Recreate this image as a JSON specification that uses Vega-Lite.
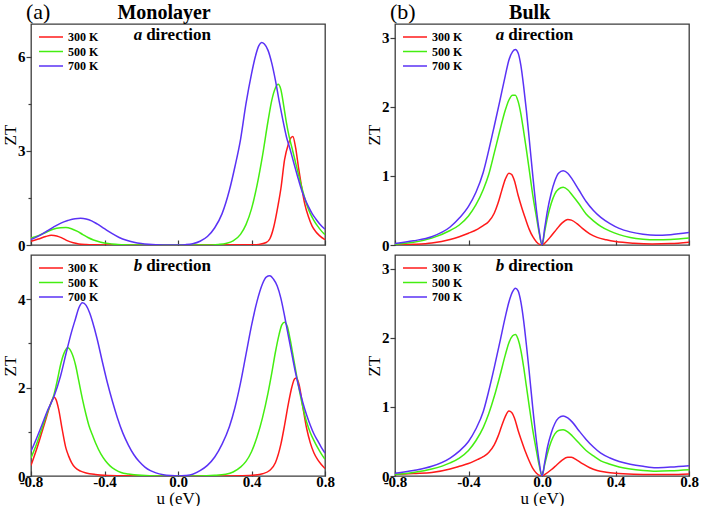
{
  "$schema": "https://vega.github.io/schema/vega-lite/v6.json",
  "padding": {"left": 0, "top": 0, "right": 0, "bottom": 0},
  "background": "white",
  "config": {
    "font": "Liberation Serif",
    "view": {"stroke": "#3c3c3c", "strokeWidth": 1.3},
    "axis": {"labelFont": "Liberation Serif", "labelFontWeight": "bold", "labelFontSize": 15, "labelColor": "#000", "titleFont": "Liberation Serif", "titleFontWeight": "normal", "titleFontSize": 17, "titleColor": "#000", "grid": false, "domain": false, "tickColor": "#3c3c3c", "tickWidth": 1.2, "labelFlush": false, "labelOverlap": false},
    "legend": {"title": null, "orient": "none", "padding": 0, "symbolType": "M-2,0L2,0", "symbolSize": 144, "symbolStrokeWidth": 1.5, "labelFont": "Liberation Serif", "labelFontSize": 12, "labelFontWeight": "bold", "labelColor": "#000", "labelOffset": 10, "rowPadding": 1.5},
    "text": {"font": "Liberation Serif", "color": "#000"}
  },
  "datasets": {
    "d": [
      {"p":"LA","T":"300 K","u":-0.8,"v":0.12},{"p":"LA","T":"300 K","u":-0.76,"v":0.19},{"p":"LA","T":"300 K","u":-0.72,"v":0.27},{"p":"LA","T":"300 K","u":-0.69,"v":0.31},{"p":"LA","T":"300 K","u":-0.66,"v":0.29},{"p":"LA","T":"300 K","u":-0.63,"v":0.22},{"p":"LA","T":"300 K","u":-0.6,"v":0.13},{"p":"LA","T":"300 K","u":-0.57,"v":0.07},{"p":"LA","T":"300 K","u":-0.54,"v":0.035},{"p":"LA","T":"300 K","u":-0.5,"v":0.015},{"p":"LA","T":"300 K","u":-0.45,"v":0.005},{"p":"LA","T":"300 K","u":-0.4,"v":0},{"p":"LA","T":"300 K","u":0,"v":0},{"p":"LA","T":"300 K","u":0.4,"v":0.005},{"p":"LA","T":"300 K","u":0.44,"v":0.02},{"p":"LA","T":"300 K","u":0.48,"v":0.08},{"p":"LA","T":"300 K","u":0.5,"v":0.2},{"p":"LA","T":"300 K","u":0.52,"v":0.55},{"p":"LA","T":"300 K","u":0.545,"v":1.28},{"p":"LA","T":"300 K","u":0.56,"v":1.8},{"p":"LA","T":"300 K","u":0.58,"v":2.72},{"p":"LA","T":"300 K","u":0.6,"v":3.2},{"p":"LA","T":"300 K","u":0.615,"v":3.42},{"p":"LA","T":"300 K","u":0.625,"v":3.46},{"p":"LA","T":"300 K","u":0.64,"v":3.1},{"p":"LA","T":"300 K","u":0.655,"v":2.5},{"p":"LA","T":"300 K","u":0.67,"v":1.95},{"p":"LA","T":"300 K","u":0.69,"v":1.3},{"p":"LA","T":"300 K","u":0.71,"v":0.9},{"p":"LA","T":"300 K","u":0.73,"v":0.6},{"p":"LA","T":"300 K","u":0.75,"v":0.42},{"p":"LA","T":"300 K","u":0.77,"v":0.3},{"p":"LA","T":"300 K","u":0.8,"v":0.17},
      {"p":"LA","T":"500 K","u":-0.8,"v":0.22},{"p":"LA","T":"500 K","u":-0.76,"v":0.3},{"p":"LA","T":"500 K","u":-0.72,"v":0.4},{"p":"LA","T":"500 K","u":-0.68,"v":0.5},{"p":"LA","T":"500 K","u":-0.64,"v":0.55},{"p":"LA","T":"500 K","u":-0.61,"v":0.56},{"p":"LA","T":"500 K","u":-0.58,"v":0.52},{"p":"LA","T":"500 K","u":-0.55,"v":0.44},{"p":"LA","T":"500 K","u":-0.52,"v":0.34},{"p":"LA","T":"500 K","u":-0.49,"v":0.24},{"p":"LA","T":"500 K","u":-0.46,"v":0.16},{"p":"LA","T":"500 K","u":-0.42,"v":0.09},{"p":"LA","T":"500 K","u":-0.38,"v":0.045},{"p":"LA","T":"500 K","u":-0.34,"v":0.02},{"p":"LA","T":"500 K","u":-0.3,"v":0.01},{"p":"LA","T":"500 K","u":-0.25,"v":0.003},{"p":"LA","T":"500 K","u":-0.2,"v":0},{"p":"LA","T":"500 K","u":0.15,"v":0},{"p":"LA","T":"500 K","u":0.22,"v":0.02},{"p":"LA","T":"500 K","u":0.26,"v":0.05},{"p":"LA","T":"500 K","u":0.3,"v":0.13},{"p":"LA","T":"500 K","u":0.34,"v":0.34},{"p":"LA","T":"500 K","u":0.37,"v":0.65},{"p":"LA","T":"500 K","u":0.4,"v":1.15},{"p":"LA","T":"500 K","u":0.43,"v":1.9},{"p":"LA","T":"500 K","u":0.46,"v":2.85},{"p":"LA","T":"500 K","u":0.49,"v":3.95},{"p":"LA","T":"500 K","u":0.51,"v":4.6},{"p":"LA","T":"500 K","u":0.53,"v":5.0},{"p":"LA","T":"500 K","u":0.545,"v":5.12},{"p":"LA","T":"500 K","u":0.56,"v":4.95},{"p":"LA","T":"500 K","u":0.575,"v":4.45},{"p":"LA","T":"500 K","u":0.59,"v":3.9},{"p":"LA","T":"500 K","u":0.605,"v":3.45},{"p":"LA","T":"500 K","u":0.62,"v":3.1},{"p":"LA","T":"500 K","u":0.64,"v":2.62},{"p":"LA","T":"500 K","u":0.66,"v":2.15},{"p":"LA","T":"500 K","u":0.68,"v":1.7},{"p":"LA","T":"500 K","u":0.7,"v":1.3},{"p":"LA","T":"500 K","u":0.72,"v":1.0},{"p":"LA","T":"500 K","u":0.74,"v":0.78},{"p":"LA","T":"500 K","u":0.76,"v":0.6},{"p":"LA","T":"500 K","u":0.78,"v":0.45},{"p":"LA","T":"500 K","u":0.8,"v":0.33},
      {"p":"LA","T":"700 K","u":-0.8,"v":0.17},{"p":"LA","T":"700 K","u":-0.76,"v":0.28},{"p":"LA","T":"700 K","u":-0.72,"v":0.42},{"p":"LA","T":"700 K","u":-0.68,"v":0.56},{"p":"LA","T":"700 K","u":-0.64,"v":0.69},{"p":"LA","T":"700 K","u":-0.6,"v":0.78},{"p":"LA","T":"700 K","u":-0.56,"v":0.84},{"p":"LA","T":"700 K","u":-0.53,"v":0.85},{"p":"LA","T":"700 K","u":-0.5,"v":0.83},{"p":"LA","T":"700 K","u":-0.47,"v":0.77},{"p":"LA","T":"700 K","u":-0.44,"v":0.67},{"p":"LA","T":"700 K","u":-0.4,"v":0.52},{"p":"LA","T":"700 K","u":-0.36,"v":0.37},{"p":"LA","T":"700 K","u":-0.32,"v":0.24},{"p":"LA","T":"700 K","u":-0.28,"v":0.15},{"p":"LA","T":"700 K","u":-0.24,"v":0.09},{"p":"LA","T":"700 K","u":-0.2,"v":0.05},{"p":"LA","T":"700 K","u":-0.16,"v":0.025},{"p":"LA","T":"700 K","u":-0.12,"v":0.01},{"p":"LA","T":"700 K","u":-0.08,"v":0.003},{"p":"LA","T":"700 K","u":-0.04,"v":0},{"p":"LA","T":"700 K","u":0,"v":0},{"p":"LA","T":"700 K","u":0.04,"v":0.01},{"p":"LA","T":"700 K","u":0.08,"v":0.04},{"p":"LA","T":"700 K","u":0.12,"v":0.12},{"p":"LA","T":"700 K","u":0.16,"v":0.27},{"p":"LA","T":"700 K","u":0.2,"v":0.55},{"p":"LA","T":"700 K","u":0.24,"v":1.0},{"p":"LA","T":"700 K","u":0.28,"v":1.75},{"p":"LA","T":"700 K","u":0.31,"v":2.5},{"p":"LA","T":"700 K","u":0.34,"v":3.35},{"p":"LA","T":"700 K","u":0.37,"v":4.5},{"p":"LA","T":"700 K","u":0.4,"v":5.45},{"p":"LA","T":"700 K","u":0.42,"v":5.98},{"p":"LA","T":"700 K","u":0.44,"v":6.35},{"p":"LA","T":"700 K","u":0.455,"v":6.45},{"p":"LA","T":"700 K","u":0.47,"v":6.4},{"p":"LA","T":"700 K","u":0.49,"v":6.2},{"p":"LA","T":"700 K","u":0.51,"v":5.8},{"p":"LA","T":"700 K","u":0.53,"v":5.25},{"p":"LA","T":"700 K","u":0.55,"v":4.6},{"p":"LA","T":"700 K","u":0.57,"v":4.0},{"p":"LA","T":"700 K","u":0.59,"v":3.45},{"p":"LA","T":"700 K","u":0.61,"v":3.05},{"p":"LA","T":"700 K","u":0.63,"v":2.62},{"p":"LA","T":"700 K","u":0.65,"v":2.2},{"p":"LA","T":"700 K","u":0.67,"v":1.8},{"p":"LA","T":"700 K","u":0.69,"v":1.48},{"p":"LA","T":"700 K","u":0.71,"v":1.22},{"p":"LA","T":"700 K","u":0.73,"v":1.0},{"p":"LA","T":"700 K","u":0.75,"v":0.83},{"p":"LA","T":"700 K","u":0.77,"v":0.68},{"p":"LA","T":"700 K","u":0.8,"v":0.5},
      {"p":"LB","T":"300 K","u":-0.8,"v":0.24},{"p":"LB","T":"300 K","u":-0.77,"v":0.6},{"p":"LB","T":"300 K","u":-0.74,"v":1.0},{"p":"LB","T":"300 K","u":-0.72,"v":1.27},{"p":"LB","T":"300 K","u":-0.7,"v":1.55},{"p":"LB","T":"300 K","u":-0.685,"v":1.72},{"p":"LB","T":"300 K","u":-0.675,"v":1.78},{"p":"LB","T":"300 K","u":-0.665,"v":1.74},{"p":"LB","T":"300 K","u":-0.65,"v":1.52},{"p":"LB","T":"300 K","u":-0.63,"v":1.05},{"p":"LB","T":"300 K","u":-0.61,"v":0.63},{"p":"LB","T":"300 K","u":-0.595,"v":0.45},{"p":"LB","T":"300 K","u":-0.58,"v":0.31},{"p":"LB","T":"300 K","u":-0.56,"v":0.19},{"p":"LB","T":"300 K","u":-0.53,"v":0.11},{"p":"LB","T":"300 K","u":-0.5,"v":0.07},{"p":"LB","T":"300 K","u":-0.45,"v":0.035},{"p":"LB","T":"300 K","u":-0.4,"v":0.015},{"p":"LB","T":"300 K","u":-0.3,"v":0.003},{"p":"LB","T":"300 K","u":-0.2,"v":0},{"p":"LB","T":"300 K","u":0.2,"v":0},{"p":"LB","T":"300 K","u":0.35,"v":0.005},{"p":"LB","T":"300 K","u":0.42,"v":0.02},{"p":"LB","T":"300 K","u":0.46,"v":0.05},{"p":"LB","T":"300 K","u":0.5,"v":0.13},{"p":"LB","T":"300 K","u":0.53,"v":0.3},{"p":"LB","T":"300 K","u":0.56,"v":0.72},{"p":"LB","T":"300 K","u":0.58,"v":1.15},{"p":"LB","T":"300 K","u":0.6,"v":1.62},{"p":"LB","T":"300 K","u":0.62,"v":2.02},{"p":"LB","T":"300 K","u":0.635,"v":2.2},{"p":"LB","T":"300 K","u":0.645,"v":2.22},{"p":"LB","T":"300 K","u":0.66,"v":2.05},{"p":"LB","T":"300 K","u":0.68,"v":1.55},{"p":"LB","T":"300 K","u":0.7,"v":1.08},{"p":"LB","T":"300 K","u":0.72,"v":0.75},{"p":"LB","T":"300 K","u":0.74,"v":0.52},{"p":"LB","T":"300 K","u":0.76,"v":0.37},{"p":"LB","T":"300 K","u":0.78,"v":0.26},{"p":"LB","T":"300 K","u":0.8,"v":0.17},
      {"p":"LB","T":"500 K","u":-0.8,"v":0.41},{"p":"LB","T":"500 K","u":-0.77,"v":0.72},{"p":"LB","T":"500 K","u":-0.74,"v":1.08},{"p":"LB","T":"500 K","u":-0.71,"v":1.45},{"p":"LB","T":"500 K","u":-0.675,"v":1.84},{"p":"LB","T":"500 K","u":-0.655,"v":2.2},{"p":"LB","T":"500 K","u":-0.64,"v":2.5},{"p":"LB","T":"500 K","u":-0.62,"v":2.78},{"p":"LB","T":"500 K","u":-0.6,"v":2.9},{"p":"LB","T":"500 K","u":-0.58,"v":2.8},{"p":"LB","T":"500 K","u":-0.557,"v":2.5},{"p":"LB","T":"500 K","u":-0.54,"v":2.15},{"p":"LB","T":"500 K","u":-0.52,"v":1.74},{"p":"LB","T":"500 K","u":-0.5,"v":1.38},{"p":"LB","T":"500 K","u":-0.484,"v":1.13},{"p":"LB","T":"500 K","u":-0.465,"v":0.92},{"p":"LB","T":"500 K","u":-0.448,"v":0.74},{"p":"LB","T":"500 K","u":-0.42,"v":0.5},{"p":"LB","T":"500 K","u":-0.394,"v":0.34},{"p":"LB","T":"500 K","u":-0.37,"v":0.23},{"p":"LB","T":"500 K","u":-0.34,"v":0.14},{"p":"LB","T":"500 K","u":-0.31,"v":0.08},{"p":"LB","T":"500 K","u":-0.27,"v":0.045},{"p":"LB","T":"500 K","u":-0.2,"v":0.015},{"p":"LB","T":"500 K","u":-0.1,"v":0.002},{"p":"LB","T":"500 K","u":0,"v":0},{"p":"LB","T":"500 K","u":0.1,"v":0.002},{"p":"LB","T":"500 K","u":0.2,"v":0.015},{"p":"LB","T":"500 K","u":0.26,"v":0.04},{"p":"LB","T":"500 K","u":0.3,"v":0.09},{"p":"LB","T":"500 K","u":0.34,"v":0.2},{"p":"LB","T":"500 K","u":0.37,"v":0.33},{"p":"LB","T":"500 K","u":0.4,"v":0.55},{"p":"LB","T":"500 K","u":0.43,"v":0.88},{"p":"LB","T":"500 K","u":0.46,"v":1.32},{"p":"LB","T":"500 K","u":0.49,"v":1.88},{"p":"LB","T":"500 K","u":0.51,"v":2.32},{"p":"LB","T":"500 K","u":0.53,"v":2.8},{"p":"LB","T":"500 K","u":0.55,"v":3.2},{"p":"LB","T":"500 K","u":0.565,"v":3.42},{"p":"LB","T":"500 K","u":0.58,"v":3.48},{"p":"LB","T":"500 K","u":0.595,"v":3.38},{"p":"LB","T":"500 K","u":0.61,"v":3.1},{"p":"LB","T":"500 K","u":0.625,"v":2.75},{"p":"LB","T":"500 K","u":0.64,"v":2.4},{"p":"LB","T":"500 K","u":0.66,"v":1.95},{"p":"LB","T":"500 K","u":0.68,"v":1.55},{"p":"LB","T":"500 K","u":0.7,"v":1.22},{"p":"LB","T":"500 K","u":0.72,"v":0.98},{"p":"LB","T":"500 K","u":0.74,"v":0.8},{"p":"LB","T":"500 K","u":0.76,"v":0.64},{"p":"LB","T":"500 K","u":0.78,"v":0.5},{"p":"LB","T":"500 K","u":0.8,"v":0.38},
      {"p":"LB","T":"700 K","u":-0.8,"v":0.56},{"p":"LB","T":"700 K","u":-0.77,"v":0.85},{"p":"LB","T":"700 K","u":-0.74,"v":1.16},{"p":"LB","T":"700 K","u":-0.71,"v":1.48},{"p":"LB","T":"700 K","u":-0.675,"v":1.8},{"p":"LB","T":"700 K","u":-0.64,"v":2.25},{"p":"LB","T":"700 K","u":-0.61,"v":2.76},{"p":"LB","T":"700 K","u":-0.58,"v":3.25},{"p":"LB","T":"700 K","u":-0.557,"v":3.57},{"p":"LB","T":"700 K","u":-0.54,"v":3.8},{"p":"LB","T":"700 K","u":-0.52,"v":3.92},{"p":"LB","T":"700 K","u":-0.5,"v":3.86},{"p":"LB","T":"700 K","u":-0.48,"v":3.68},{"p":"LB","T":"700 K","u":-0.466,"v":3.5},{"p":"LB","T":"700 K","u":-0.44,"v":3.1},{"p":"LB","T":"700 K","u":-0.412,"v":2.59},{"p":"LB","T":"700 K","u":-0.385,"v":2.12},{"p":"LB","T":"700 K","u":-0.357,"v":1.69},{"p":"LB","T":"700 K","u":-0.33,"v":1.32},{"p":"LB","T":"700 K","u":-0.3,"v":0.97},{"p":"LB","T":"700 K","u":-0.27,"v":0.7},{"p":"LB","T":"700 K","u":-0.24,"v":0.48},{"p":"LB","T":"700 K","u":-0.21,"v":0.32},{"p":"LB","T":"700 K","u":-0.18,"v":0.2},{"p":"LB","T":"700 K","u":-0.15,"v":0.12},{"p":"LB","T":"700 K","u":-0.12,"v":0.07},{"p":"LB","T":"700 K","u":-0.08,"v":0.03},{"p":"LB","T":"700 K","u":-0.04,"v":0.01},{"p":"LB","T":"700 K","u":0,"v":0},{"p":"LB","T":"700 K","u":0.04,"v":0.01},{"p":"LB","T":"700 K","u":0.08,"v":0.04},{"p":"LB","T":"700 K","u":0.12,"v":0.12},{"p":"LB","T":"700 K","u":0.16,"v":0.24},{"p":"LB","T":"700 K","u":0.2,"v":0.43},{"p":"LB","T":"700 K","u":0.24,"v":0.72},{"p":"LB","T":"700 K","u":0.28,"v":1.12},{"p":"LB","T":"700 K","u":0.31,"v":1.55},{"p":"LB","T":"700 K","u":0.34,"v":2.1},{"p":"LB","T":"700 K","u":0.37,"v":2.75},{"p":"LB","T":"700 K","u":0.4,"v":3.4},{"p":"LB","T":"700 K","u":0.43,"v":3.95},{"p":"LB","T":"700 K","u":0.46,"v":4.35},{"p":"LB","T":"700 K","u":0.48,"v":4.5},{"p":"LB","T":"700 K","u":0.5,"v":4.53},{"p":"LB","T":"700 K","u":0.52,"v":4.45},{"p":"LB","T":"700 K","u":0.54,"v":4.3},{"p":"LB","T":"700 K","u":0.56,"v":4.02},{"p":"LB","T":"700 K","u":0.58,"v":3.62},{"p":"LB","T":"700 K","u":0.6,"v":3.18},{"p":"LB","T":"700 K","u":0.62,"v":2.75},{"p":"LB","T":"700 K","u":0.64,"v":2.33},{"p":"LB","T":"700 K","u":0.66,"v":1.97},{"p":"LB","T":"700 K","u":0.68,"v":1.65},{"p":"LB","T":"700 K","u":0.7,"v":1.38},{"p":"LB","T":"700 K","u":0.72,"v":1.15},{"p":"LB","T":"700 K","u":0.74,"v":0.95},{"p":"LB","T":"700 K","u":0.76,"v":0.8},{"p":"LB","T":"700 K","u":0.78,"v":0.65},{"p":"LB","T":"700 K","u":0.8,"v":0.52},
      {"p":"RA","T":"300 K","u":-0.8,"v":0.0},{"p":"RA","T":"300 K","u":-0.7,"v":0.01},{"p":"RA","T":"300 K","u":-0.6,"v":0.03},{"p":"RA","T":"300 K","u":-0.5,"v":0.08},{"p":"RA","T":"300 K","u":-0.45,"v":0.12},{"p":"RA","T":"300 K","u":-0.4,"v":0.17},{"p":"RA","T":"300 K","u":-0.35,"v":0.23},{"p":"RA","T":"300 K","u":-0.32,"v":0.28},{"p":"RA","T":"300 K","u":-0.29,"v":0.34},{"p":"RA","T":"300 K","u":-0.26,"v":0.46},{"p":"RA","T":"300 K","u":-0.24,"v":0.6},{"p":"RA","T":"300 K","u":-0.22,"v":0.78},{"p":"RA","T":"300 K","u":-0.2,"v":0.95},{"p":"RA","T":"300 K","u":-0.18,"v":1.04},{"p":"RA","T":"300 K","u":-0.165,"v":1.02},{"p":"RA","T":"300 K","u":-0.15,"v":0.93},{"p":"RA","T":"300 K","u":-0.13,"v":0.72},{"p":"RA","T":"300 K","u":-0.11,"v":0.54},{"p":"RA","T":"300 K","u":-0.09,"v":0.38},{"p":"RA","T":"300 K","u":-0.07,"v":0.23},{"p":"RA","T":"300 K","u":-0.05,"v":0.12},{"p":"RA","T":"300 K","u":-0.03,"v":0.045},{"p":"RA","T":"300 K","u":-0.01,"v":0.005},{"p":"RA","T":"300 K","u":0,"v":0},{"p":"RA","T":"300 K","u":0.02,"v":0.04},{"p":"RA","T":"300 K","u":0.05,"v":0.13},{"p":"RA","T":"300 K","u":0.08,"v":0.23},{"p":"RA","T":"300 K","u":0.11,"v":0.32},{"p":"RA","T":"300 K","u":0.14,"v":0.37},{"p":"RA","T":"300 K","u":0.16,"v":0.36},{"p":"RA","T":"300 K","u":0.19,"v":0.31},{"p":"RA","T":"300 K","u":0.22,"v":0.24},{"p":"RA","T":"300 K","u":0.26,"v":0.16},{"p":"RA","T":"300 K","u":0.3,"v":0.11},{"p":"RA","T":"300 K","u":0.35,"v":0.075},{"p":"RA","T":"300 K","u":0.4,"v":0.05},{"p":"RA","T":"300 K","u":0.5,"v":0.025},{"p":"RA","T":"300 K","u":0.6,"v":0.015},{"p":"RA","T":"300 K","u":0.7,"v":0.02},{"p":"RA","T":"300 K","u":0.8,"v":0.04},
      {"p":"RA","T":"500 K","u":-0.8,"v":0.01},{"p":"RA","T":"500 K","u":-0.7,"v":0.04},{"p":"RA","T":"500 K","u":-0.6,"v":0.1},{"p":"RA","T":"500 K","u":-0.5,"v":0.21},{"p":"RA","T":"500 K","u":-0.45,"v":0.29},{"p":"RA","T":"500 K","u":-0.4,"v":0.42},{"p":"RA","T":"500 K","u":-0.36,"v":0.58},{"p":"RA","T":"500 K","u":-0.32,"v":0.8},{"p":"RA","T":"500 K","u":-0.29,"v":1.02},{"p":"RA","T":"500 K","u":-0.26,"v":1.33},{"p":"RA","T":"500 K","u":-0.23,"v":1.65},{"p":"RA","T":"500 K","u":-0.2,"v":1.95},{"p":"RA","T":"500 K","u":-0.18,"v":2.1},{"p":"RA","T":"500 K","u":-0.16,"v":2.17},{"p":"RA","T":"500 K","u":-0.145,"v":2.17},{"p":"RA","T":"500 K","u":-0.13,"v":2.08},{"p":"RA","T":"500 K","u":-0.115,"v":1.9},{"p":"RA","T":"500 K","u":-0.1,"v":1.65},{"p":"RA","T":"500 K","u":-0.085,"v":1.38},{"p":"RA","T":"500 K","u":-0.07,"v":1.1},{"p":"RA","T":"500 K","u":-0.05,"v":0.72},{"p":"RA","T":"500 K","u":-0.03,"v":0.4},{"p":"RA","T":"500 K","u":-0.015,"v":0.17},{"p":"RA","T":"500 K","u":0,"v":0},{"p":"RA","T":"500 K","u":0.015,"v":0.2},{"p":"RA","T":"500 K","u":0.03,"v":0.4},{"p":"RA","T":"500 K","u":0.05,"v":0.6},{"p":"RA","T":"500 K","u":0.07,"v":0.74},{"p":"RA","T":"500 K","u":0.09,"v":0.81},{"p":"RA","T":"500 K","u":0.115,"v":0.835},{"p":"RA","T":"500 K","u":0.14,"v":0.8},{"p":"RA","T":"500 K","u":0.165,"v":0.72},{"p":"RA","T":"500 K","u":0.2,"v":0.6},{"p":"RA","T":"500 K","u":0.24,"v":0.45},{"p":"RA","T":"500 K","u":0.28,"v":0.35},{"p":"RA","T":"500 K","u":0.32,"v":0.27},{"p":"RA","T":"500 K","u":0.37,"v":0.2},{"p":"RA","T":"500 K","u":0.42,"v":0.15},{"p":"RA","T":"500 K","u":0.48,"v":0.11},{"p":"RA","T":"500 K","u":0.55,"v":0.085},{"p":"RA","T":"500 K","u":0.62,"v":0.075},{"p":"RA","T":"500 K","u":0.7,"v":0.08},{"p":"RA","T":"500 K","u":0.8,"v":0.1},
      {"p":"RA","T":"700 K","u":-0.8,"v":0.02},{"p":"RA","T":"700 K","u":-0.7,"v":0.06},{"p":"RA","T":"700 K","u":-0.6,"v":0.12},{"p":"RA","T":"700 K","u":-0.5,"v":0.26},{"p":"RA","T":"700 K","u":-0.45,"v":0.39},{"p":"RA","T":"700 K","u":-0.4,"v":0.56},{"p":"RA","T":"700 K","u":-0.36,"v":0.76},{"p":"RA","T":"700 K","u":-0.32,"v":1.05},{"p":"RA","T":"700 K","u":-0.29,"v":1.37},{"p":"RA","T":"700 K","u":-0.26,"v":1.72},{"p":"RA","T":"700 K","u":-0.23,"v":2.08},{"p":"RA","T":"700 K","u":-0.2,"v":2.45},{"p":"RA","T":"700 K","u":-0.18,"v":2.68},{"p":"RA","T":"700 K","u":-0.16,"v":2.8},{"p":"RA","T":"700 K","u":-0.145,"v":2.83},{"p":"RA","T":"700 K","u":-0.13,"v":2.78},{"p":"RA","T":"700 K","u":-0.115,"v":2.6},{"p":"RA","T":"700 K","u":-0.1,"v":2.3},{"p":"RA","T":"700 K","u":-0.085,"v":1.95},{"p":"RA","T":"700 K","u":-0.07,"v":1.55},{"p":"RA","T":"700 K","u":-0.05,"v":1.0},{"p":"RA","T":"700 K","u":-0.03,"v":0.5},{"p":"RA","T":"700 K","u":-0.015,"v":0.2},{"p":"RA","T":"700 K","u":0,"v":0},{"p":"RA","T":"700 K","u":0.015,"v":0.25},{"p":"RA","T":"700 K","u":0.03,"v":0.5},{"p":"RA","T":"700 K","u":0.05,"v":0.75},{"p":"RA","T":"700 K","u":0.07,"v":0.93},{"p":"RA","T":"700 K","u":0.09,"v":1.04},{"p":"RA","T":"700 K","u":0.115,"v":1.075},{"p":"RA","T":"700 K","u":0.14,"v":1.04},{"p":"RA","T":"700 K","u":0.165,"v":0.95},{"p":"RA","T":"700 K","u":0.2,"v":0.8},{"p":"RA","T":"700 K","u":0.24,"v":0.63},{"p":"RA","T":"700 K","u":0.28,"v":0.5},{"p":"RA","T":"700 K","u":0.32,"v":0.4},{"p":"RA","T":"700 K","u":0.37,"v":0.31},{"p":"RA","T":"700 K","u":0.42,"v":0.24},{"p":"RA","T":"700 K","u":0.48,"v":0.19},{"p":"RA","T":"700 K","u":0.55,"v":0.155},{"p":"RA","T":"700 K","u":0.62,"v":0.14},{"p":"RA","T":"700 K","u":0.7,"v":0.15},{"p":"RA","T":"700 K","u":0.8,"v":0.18},
      {"p":"RB","T":"300 K","u":-0.8,"v":0.02},{"p":"RB","T":"300 K","u":-0.7,"v":0.035},{"p":"RB","T":"300 K","u":-0.6,"v":0.05},{"p":"RB","T":"300 K","u":-0.5,"v":0.1},{"p":"RB","T":"300 K","u":-0.45,"v":0.14},{"p":"RB","T":"300 K","u":-0.4,"v":0.18},{"p":"RB","T":"300 K","u":-0.35,"v":0.24},{"p":"RB","T":"300 K","u":-0.32,"v":0.28},{"p":"RB","T":"300 K","u":-0.29,"v":0.34},{"p":"RB","T":"300 K","u":-0.26,"v":0.45},{"p":"RB","T":"300 K","u":-0.24,"v":0.57},{"p":"RB","T":"300 K","u":-0.22,"v":0.72},{"p":"RB","T":"300 K","u":-0.2,"v":0.86},{"p":"RB","T":"300 K","u":-0.18,"v":0.94},{"p":"RB","T":"300 K","u":-0.165,"v":0.92},{"p":"RB","T":"300 K","u":-0.15,"v":0.84},{"p":"RB","T":"300 K","u":-0.13,"v":0.66},{"p":"RB","T":"300 K","u":-0.11,"v":0.5},{"p":"RB","T":"300 K","u":-0.09,"v":0.35},{"p":"RB","T":"300 K","u":-0.07,"v":0.22},{"p":"RB","T":"300 K","u":-0.05,"v":0.11},{"p":"RB","T":"300 K","u":-0.03,"v":0.04},{"p":"RB","T":"300 K","u":-0.01,"v":0.005},{"p":"RB","T":"300 K","u":0,"v":0},{"p":"RB","T":"300 K","u":0.02,"v":0.03},{"p":"RB","T":"300 K","u":0.05,"v":0.09},{"p":"RB","T":"300 K","u":0.08,"v":0.16},{"p":"RB","T":"300 K","u":0.11,"v":0.23},{"p":"RB","T":"300 K","u":0.14,"v":0.27},{"p":"RB","T":"300 K","u":0.16,"v":0.27},{"p":"RB","T":"300 K","u":0.19,"v":0.23},{"p":"RB","T":"300 K","u":0.22,"v":0.18},{"p":"RB","T":"300 K","u":0.26,"v":0.12},{"p":"RB","T":"300 K","u":0.3,"v":0.08},{"p":"RB","T":"300 K","u":0.35,"v":0.055},{"p":"RB","T":"300 K","u":0.4,"v":0.04},{"p":"RB","T":"300 K","u":0.5,"v":0.025},{"p":"RB","T":"300 K","u":0.6,"v":0.02},{"p":"RB","T":"300 K","u":0.7,"v":0.02},{"p":"RB","T":"300 K","u":0.8,"v":0.03},
      {"p":"RB","T":"500 K","u":-0.8,"v":0.02},{"p":"RB","T":"500 K","u":-0.7,"v":0.05},{"p":"RB","T":"500 K","u":-0.6,"v":0.1},{"p":"RB","T":"500 K","u":-0.5,"v":0.19},{"p":"RB","T":"500 K","u":-0.45,"v":0.26},{"p":"RB","T":"500 K","u":-0.4,"v":0.37},{"p":"RB","T":"500 K","u":-0.36,"v":0.51},{"p":"RB","T":"500 K","u":-0.32,"v":0.7},{"p":"RB","T":"500 K","u":-0.29,"v":0.9},{"p":"RB","T":"500 K","u":-0.26,"v":1.15},{"p":"RB","T":"500 K","u":-0.23,"v":1.44},{"p":"RB","T":"500 K","u":-0.2,"v":1.75},{"p":"RB","T":"500 K","u":-0.18,"v":1.93},{"p":"RB","T":"500 K","u":-0.16,"v":2.03},{"p":"RB","T":"500 K","u":-0.145,"v":2.05},{"p":"RB","T":"500 K","u":-0.13,"v":1.98},{"p":"RB","T":"500 K","u":-0.115,"v":1.82},{"p":"RB","T":"500 K","u":-0.1,"v":1.58},{"p":"RB","T":"500 K","u":-0.085,"v":1.3},{"p":"RB","T":"500 K","u":-0.07,"v":1.02},{"p":"RB","T":"500 K","u":-0.05,"v":0.66},{"p":"RB","T":"500 K","u":-0.03,"v":0.36},{"p":"RB","T":"500 K","u":-0.015,"v":0.15},{"p":"RB","T":"500 K","u":0,"v":0},{"p":"RB","T":"500 K","u":0.015,"v":0.17},{"p":"RB","T":"500 K","u":0.03,"v":0.33},{"p":"RB","T":"500 K","u":0.05,"v":0.5},{"p":"RB","T":"500 K","u":0.07,"v":0.61},{"p":"RB","T":"500 K","u":0.09,"v":0.66},{"p":"RB","T":"500 K","u":0.115,"v":0.67},{"p":"RB","T":"500 K","u":0.14,"v":0.64},{"p":"RB","T":"500 K","u":0.165,"v":0.58},{"p":"RB","T":"500 K","u":0.2,"v":0.48},{"p":"RB","T":"500 K","u":0.24,"v":0.37},{"p":"RB","T":"500 K","u":0.28,"v":0.29},{"p":"RB","T":"500 K","u":0.32,"v":0.22},{"p":"RB","T":"500 K","u":0.37,"v":0.17},{"p":"RB","T":"500 K","u":0.42,"v":0.13},{"p":"RB","T":"500 K","u":0.48,"v":0.1},{"p":"RB","T":"500 K","u":0.55,"v":0.08},{"p":"RB","T":"500 K","u":0.62,"v":0.07},{"p":"RB","T":"500 K","u":0.7,"v":0.075},{"p":"RB","T":"500 K","u":0.8,"v":0.09},
      {"p":"RB","T":"700 K","u":-0.8,"v":0.04},{"p":"RB","T":"700 K","u":-0.7,"v":0.08},{"p":"RB","T":"700 K","u":-0.6,"v":0.14},{"p":"RB","T":"700 K","u":-0.5,"v":0.26},{"p":"RB","T":"700 K","u":-0.45,"v":0.36},{"p":"RB","T":"700 K","u":-0.4,"v":0.5},{"p":"RB","T":"700 K","u":-0.36,"v":0.68},{"p":"RB","T":"700 K","u":-0.32,"v":0.93},{"p":"RB","T":"700 K","u":-0.29,"v":1.23},{"p":"RB","T":"700 K","u":-0.26,"v":1.57},{"p":"RB","T":"700 K","u":-0.23,"v":1.93},{"p":"RB","T":"700 K","u":-0.2,"v":2.3},{"p":"RB","T":"700 K","u":-0.18,"v":2.52},{"p":"RB","T":"700 K","u":-0.16,"v":2.67},{"p":"RB","T":"700 K","u":-0.145,"v":2.72},{"p":"RB","T":"700 K","u":-0.13,"v":2.68},{"p":"RB","T":"700 K","u":-0.115,"v":2.52},{"p":"RB","T":"700 K","u":-0.1,"v":2.25},{"p":"RB","T":"700 K","u":-0.085,"v":1.9},{"p":"RB","T":"700 K","u":-0.07,"v":1.52},{"p":"RB","T":"700 K","u":-0.05,"v":0.98},{"p":"RB","T":"700 K","u":-0.03,"v":0.5},{"p":"RB","T":"700 K","u":-0.015,"v":0.2},{"p":"RB","T":"700 K","u":0,"v":0},{"p":"RB","T":"700 K","u":0.015,"v":0.2},{"p":"RB","T":"700 K","u":0.03,"v":0.42},{"p":"RB","T":"700 K","u":0.05,"v":0.62},{"p":"RB","T":"700 K","u":0.07,"v":0.76},{"p":"RB","T":"700 K","u":0.09,"v":0.84},{"p":"RB","T":"700 K","u":0.115,"v":0.87},{"p":"RB","T":"700 K","u":0.14,"v":0.84},{"p":"RB","T":"700 K","u":0.165,"v":0.78},{"p":"RB","T":"700 K","u":0.2,"v":0.66},{"p":"RB","T":"700 K","u":0.24,"v":0.53},{"p":"RB","T":"700 K","u":0.28,"v":0.42},{"p":"RB","T":"700 K","u":0.32,"v":0.33},{"p":"RB","T":"700 K","u":0.37,"v":0.26},{"p":"RB","T":"700 K","u":0.42,"v":0.21},{"p":"RB","T":"700 K","u":0.48,"v":0.17},{"p":"RB","T":"700 K","u":0.55,"v":0.14},{"p":"RB","T":"700 K","u":0.62,"v":0.12},{"p":"RB","T":"700 K","u":0.7,"v":0.13},{"p":"RB","T":"700 K","u":0.8,"v":0.15}
    ]
  },
  "spacing": 28,
  "resolve": {"scale": {"x": "independent", "y": "independent", "color": "independent"}, "axis": {"x": "independent", "y": "independent"}, "legend": {"color": "independent"}},
  "hconcat": [
    {
      "spacing": 0,
      "resolve": {"scale": {"x": "independent", "y": "independent", "color": "independent"}, "axis": {"x": "independent", "y": "independent"}, "legend": {"color": "independent"}},
      "vconcat": [
        {
          "width": 294, "height": 221,
          "layer": [
            {"data": {"name": "d"}, "transform": [{"filter": "datum.p === 'LA'"}],
             "mark": {"type": "line", "interpolate": "monotone", "strokeWidth": 1.5, "clip": true},
             "encoding": {
               "x": {"field": "u", "type": "quantitative", "scale": {"domain": [-0.8, 0.8], "nice": false, "zero": false}, "axis": {"title": null, "labels": false, "values": [-0.8, -0.6, -0.4, -0.2, 0, 0.2, 0.4, 0.6, 0.8], "tickSize": {"condition": {"test": "abs(round(datum.value*10)) % 4 == 0", "value": -5}, "value": -3}}},
               "y": {"field": "v", "type": "quantitative", "scale": {"domain": [0, 7.04], "nice": false}, "axis": {"title": "ZT", "values": [0, 1.5, 3, 4.5, 6], "labelExpr": "datum.value % 3 == 0 ? format(datum.value, 'd') : ''", "tickSize": {"condition": {"test": "datum.value % 3 == 0", "value": 5}, "value": 3}, "labelPadding": 1, "titlePadding": -2}},
               "color": {"field": "T", "type": "nominal", "scale": {"domain": ["300 K", "500 K", "700 K"], "range": ["#ff1a1a", "#44ee11", "#5a32f5"]}, "legend": {"orient": "none", "legendX": 13, "legendY": 6}}
             }},
            {"data": {"values": [{}]}, "mark": {"type": "text", "text": "(a)", "fontSize": 22, "align": "left", "baseline": "alphabetic", "dx": -5, "dy": -5}, "encoding": {"x": {"datum": -0.8}, "y": {"datum": 7.04}}},
            {"data": {"values": [{}]}, "mark": {"type": "text", "text": "Monolayer", "fontSize": 20, "fontWeight": "bold", "align": "center", "baseline": "alphabetic", "dy": -5}, "encoding": {"x": {"datum": -0.076}, "y": {"datum": 7.04}}},
            {"data": {"values": [{}]}, "mark": {"type": "text", "text": "a", "fontStyle": "italic", "fontWeight": "bold", "fontSize": 17, "align": "right", "baseline": "top", "dy": 3}, "encoding": {"x": {"datum": -0.195}, "y": {"datum": 7.04}}},
            {"data": {"values": [{}]}, "mark": {"type": "text", "text": "direction", "fontWeight": "bold", "fontSize": 17, "align": "left", "baseline": "top", "dy": 3, "dx": 4}, "encoding": {"x": {"datum": -0.195}, "y": {"datum": 7.04}}}
          ]
        },
        {
          "width": 294, "height": 221,
          "layer": [
            {"data": {"name": "d"}, "transform": [{"filter": "datum.p === 'LB'"}],
             "mark": {"type": "line", "interpolate": "monotone", "strokeWidth": 1.5, "clip": true},
             "encoding": {
               "x": {"field": "u", "type": "quantitative", "scale": {"domain": [-0.8, 0.8], "nice": false, "zero": false}, "axis": {"title": "u (eV)", "values": [-0.8, -0.6, -0.4, -0.2, 0, 0.2, 0.4, 0.6, 0.8], "labelExpr": "abs(round(datum.value*10)) % 4 == 0 ? (datum.value < 0 ? '-' : '') + format(abs(datum.value), '.1f') : ''", "tickSize": {"condition": {"test": "abs(round(datum.value*10)) % 4 == 0", "value": -5}, "value": -3}, "labelPadding": 3, "titlePadding": 1}},
               "y": {"field": "v", "type": "quantitative", "scale": {"domain": [0, 5], "nice": false}, "axis": {"title": "ZT", "values": [0, 1, 2, 3, 4], "labelExpr": "datum.value % 2 == 0 ? format(datum.value, 'd') : ''", "tickSize": {"condition": {"test": "datum.value % 2 == 0", "value": 5}, "value": 3}, "labelPadding": 1, "titlePadding": -2}},
               "color": {"field": "T", "type": "nominal", "scale": {"domain": ["300 K", "500 K", "700 K"], "range": ["#ff1a1a", "#44ee11", "#5a32f5"]}, "legend": {"orient": "none", "legendX": 13, "legendY": 6}}
             }},
            {"data": {"values": [{}]}, "mark": {"type": "text", "text": "b", "fontStyle": "italic", "fontWeight": "bold", "fontSize": 17, "align": "right", "baseline": "top", "dy": 3}, "encoding": {"x": {"datum": -0.195}, "y": {"datum": 5}}},
            {"data": {"values": [{}]}, "mark": {"type": "text", "text": "direction", "fontWeight": "bold", "fontSize": 17, "align": "left", "baseline": "top", "dy": 3, "dx": 4}, "encoding": {"x": {"datum": -0.195}, "y": {"datum": 5}}}
          ]
        }
      ]
    },
    {
      "spacing": 0,
      "resolve": {"scale": {"x": "independent", "y": "independent", "color": "independent"}, "axis": {"x": "independent", "y": "independent"}, "legend": {"color": "independent"}},
      "vconcat": [
        {
          "width": 294, "height": 221,
          "layer": [
            {"data": {"name": "d"}, "transform": [{"filter": "datum.p === 'RA'"}],
             "mark": {"type": "line", "interpolate": "monotone", "strokeWidth": 1.5, "clip": true},
             "encoding": {
               "x": {"field": "u", "type": "quantitative", "scale": {"domain": [-0.8, 0.8], "nice": false, "zero": false}, "axis": {"title": null, "labels": false, "values": [-0.8, -0.6, -0.4, -0.2, 0, 0.2, 0.4, 0.6, 0.8], "tickSize": {"condition": {"test": "abs(round(datum.value*10)) % 4 == 0", "value": -5}, "value": -3}}},
               "y": {"field": "v", "type": "quantitative", "scale": {"domain": [0, 3.2], "nice": false}, "axis": {"title": "ZT", "values": [0, 0.5, 1, 1.5, 2, 2.5, 3], "labelExpr": "datum.value % 1 == 0 ? format(datum.value, 'd') : ''", "tickSize": {"condition": {"test": "datum.value % 1 == 0", "value": 5}, "value": 3}, "labelPadding": 1, "titlePadding": -2}},
               "color": {"field": "T", "type": "nominal", "scale": {"domain": ["300 K", "500 K", "700 K"], "range": ["#ff1a1a", "#44ee11", "#5a32f5"]}, "legend": {"orient": "none", "legendX": 13, "legendY": 6}}
             }},
            {"data": {"values": [{}]}, "mark": {"type": "text", "text": "(b)", "fontSize": 22, "align": "left", "baseline": "alphabetic", "dx": -5, "dy": -5}, "encoding": {"x": {"datum": -0.8}, "y": {"datum": 3.2}}},
            {"data": {"values": [{}]}, "mark": {"type": "text", "text": "Bulk", "fontSize": 20, "fontWeight": "bold", "align": "center", "baseline": "alphabetic", "dy": -5}, "encoding": {"x": {"datum": -0.067}, "y": {"datum": 3.2}}},
            {"data": {"values": [{}]}, "mark": {"type": "text", "text": "a", "fontStyle": "italic", "fontWeight": "bold", "fontSize": 17, "align": "right", "baseline": "top", "dy": 3}, "encoding": {"x": {"datum": -0.205}, "y": {"datum": 3.2}}},
            {"data": {"values": [{}]}, "mark": {"type": "text", "text": "direction", "fontWeight": "bold", "fontSize": 17, "align": "left", "baseline": "top", "dy": 3, "dx": 4}, "encoding": {"x": {"datum": -0.205}, "y": {"datum": 3.2}}}
          ]
        },
        {
          "width": 294, "height": 221,
          "layer": [
            {"data": {"name": "d"}, "transform": [{"filter": "datum.p === 'RB'"}],
             "mark": {"type": "line", "interpolate": "monotone", "strokeWidth": 1.5, "clip": true},
             "encoding": {
               "x": {"field": "u", "type": "quantitative", "scale": {"domain": [-0.8, 0.8], "nice": false, "zero": false}, "axis": {"title": "u (eV)", "values": [-0.8, -0.6, -0.4, -0.2, 0, 0.2, 0.4, 0.6, 0.8], "labelExpr": "abs(round(datum.value*10)) % 4 == 0 ? (datum.value < 0 ? '-' : '') + format(abs(datum.value), '.1f') : ''", "tickSize": {"condition": {"test": "abs(round(datum.value*10)) % 4 == 0", "value": -5}, "value": -3}, "labelPadding": 3, "titlePadding": 1}},
               "y": {"field": "v", "type": "quantitative", "scale": {"domain": [0, 3.2], "nice": false}, "axis": {"title": "ZT", "values": [0, 0.5, 1, 1.5, 2, 2.5, 3], "labelExpr": "datum.value % 1 == 0 ? format(datum.value, 'd') : ''", "tickSize": {"condition": {"test": "datum.value % 1 == 0", "value": 5}, "value": 3}, "labelPadding": 1, "titlePadding": -2}},
               "color": {"field": "T", "type": "nominal", "scale": {"domain": ["300 K", "500 K", "700 K"], "range": ["#ff1a1a", "#44ee11", "#5a32f5"]}, "legend": {"orient": "none", "legendX": 13, "legendY": 6}}
             }},
            {"data": {"values": [{}]}, "mark": {"type": "text", "text": "b", "fontStyle": "italic", "fontWeight": "bold", "fontSize": 17, "align": "right", "baseline": "top", "dy": 3}, "encoding": {"x": {"datum": -0.205}, "y": {"datum": 3.2}}},
            {"data": {"values": [{}]}, "mark": {"type": "text", "text": "direction", "fontWeight": "bold", "fontSize": 17, "align": "left", "baseline": "top", "dy": 3, "dx": 4}, "encoding": {"x": {"datum": -0.205}, "y": {"datum": 3.2}}}
          ]
        }
      ]
    }
  ]
}
